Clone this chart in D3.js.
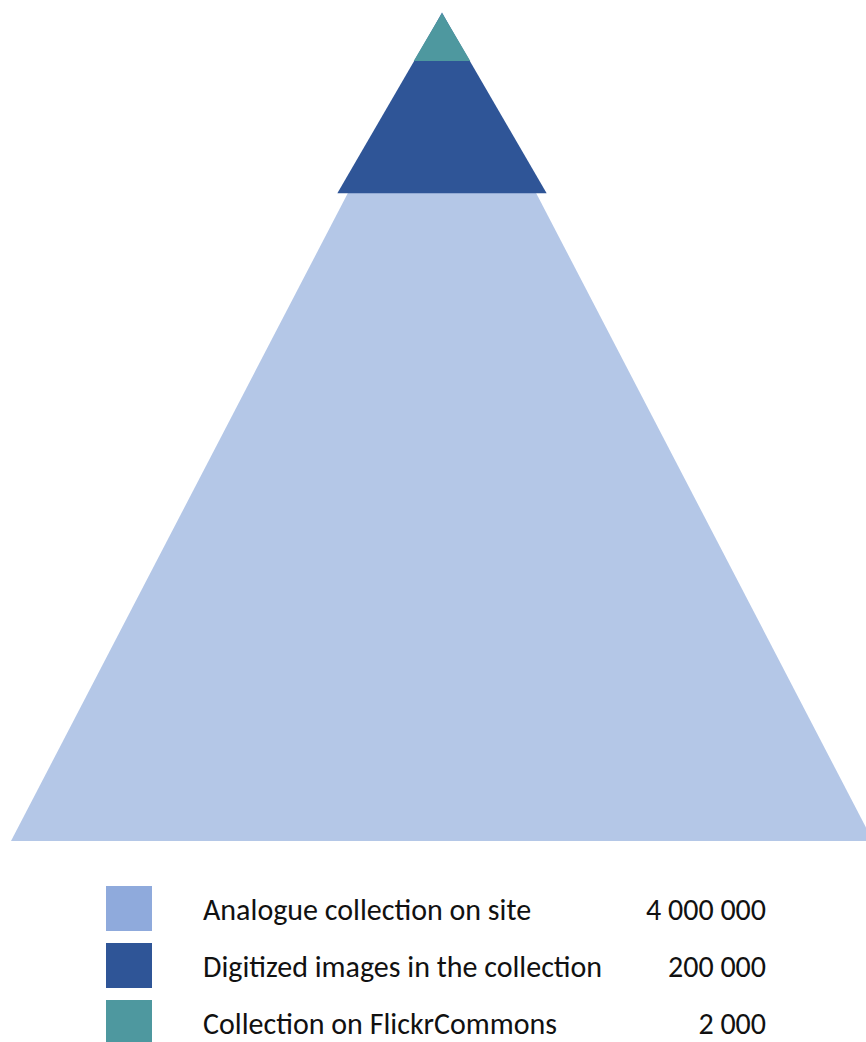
<!DOCTYPE html>
<html>
<head>
<meta charset="utf-8">
<script src="https://cdn.jsdelivr.net/npm/d3@7"></script>
<style>
  html, body { margin: 0; padding: 0; background: #ffffff; }
  svg { display: block; }
  text { font-family: Carlito, Lato, "Liberation Sans", sans-serif; fill: #111111; }
</style>
</head>
<body>
<svg id="chart" width="866" height="1042"></svg>
<script>
// Collection tiers, largest first
const categories = [
  "Analogue collection on site",
  "Digitized images in the collection",
  "Collection on FlickrCommons"
];
const values = [4000000, 200000, 2000];
const valueLabels = ["4 000 000", "200 000", "2 000"];
const pyramidColors = ["#b4c7e7", "#2f5597", "#4e989f"];
const legendColors = ["#8faadc", "#2f5597", "#4e989f"];

const W = 866, H = 1042;
const svg = d3.select("#chart");

// Pyramid geometry
const apexX = 442, apexY = 12, baseY = 841, baseHalf = 431;
const upperSpread = 1.11;   // upper tiers flare slightly wider than the base tier
const minTierDepth = 49;    // keeps the smallest tier visible

// Tier depth from the apex: area grows with the value (sqrt scale)
const depth = d3.scaleSqrt()
  .domain([0, d3.max(values)])
  .range([0, baseY - apexY - 18]);

const slope = baseHalf / (baseY - apexY);

const tiers = values.map((v, i) => {
  const d = i === 0 ? baseY - apexY : Math.max(depth(v), minTierDepth);
  const half = d * slope * (i === 0 ? 1 : upperSpread);
  return { v, i, d, half };
});

const line = d3.line();
svg.append("g")
  .selectAll("path")
  .data(tiers)
  .join("path")
  .attr("d", t => line([
    [apexX, apexY + (t.i === 0 ? 0 : 1)],
    [apexX + t.half, apexY + t.d],
    [apexX - t.half, apexY + t.d]
  ]) + "Z")
  .attr("fill", (t) => pyramidColors[t.i]);

// Legend
const legendTop = 886, rowStep = 57, sw = 46, sh = 45;
const rowY = d3.scaleLinear().domain([0, 1]).range([legendTop, legendTop + rowStep]);

const rows = svg.append("g")
  .selectAll("g")
  .data(categories)
  .join("g")
  .attr("transform", (d, i) => `translate(0,${rowY(i)})`);

rows.append("rect")
  .attr("x", 106).attr("y", 0)
  .attr("width", sw).attr("height", sh)
  .attr("fill", (d, i) => legendColors[i]);

rows.append("text")
  .attr("x", 203).attr("y", sh / 2 + 11.5)
  .attr("font-size", 30)
  .text(d => d);

rows.append("text")
  .attr("x", 766).attr("y", sh / 2 + 11.5)
  .attr("font-size", 30)
  .attr("text-anchor", "end")
  .text((d, i) => valueLabels[i]);
</script>
</body>
</html>
